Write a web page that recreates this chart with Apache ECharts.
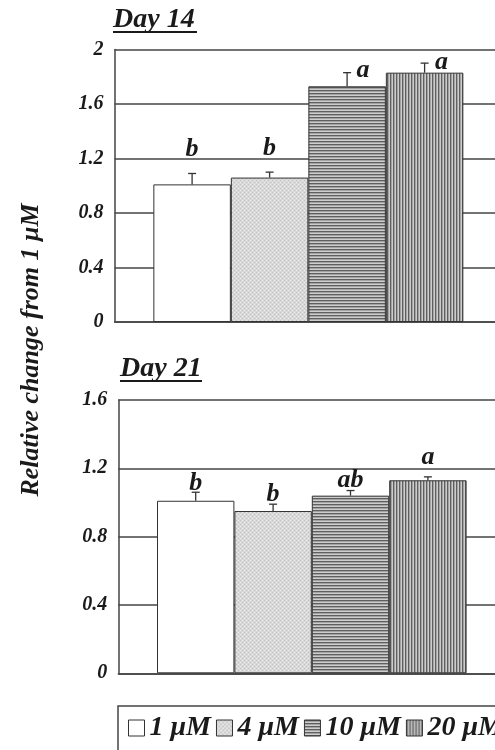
<!DOCTYPE html>
<html>
<head>
<meta charset="utf-8">
<script src="https://cdn.jsdelivr.net/npm/echarts@6/dist/echarts.min.js"></script>
<style>
  html, body { margin: 0; padding: 0; background: #fff; }
  #chart { width: 495px; height: 750px; }
</style>
</head>
<body>
<div id="chart"></div>
<script>
// Doses (one bar series each)
const doses = ['1 μM', '4 μM', '10 μM', '20 μM'];

// Day 14: mean relative change, top of the error bar, significance letters
const day14Mean = [1.01, 1.06, 1.73, 1.83];
const day14Upper = [1.09, 1.10, 1.83, 1.90];
const day14Letters = ['b', 'b', 'a', 'a'];

// Day 21
const day21Mean = [1.01, 0.95, 1.04, 1.13];
const day21Upper = [1.06, 0.99, 1.07, 1.15];
const day21Letters = ['b', 'b', 'ab', 'a'];

// Value axis ranges
const day14Axis = { min: 0, max: 2, step: 0.4 };
const day21Axis = { min: 0, max: 1.6, step: 0.4 };

const SERIF = '"Liberation Serif", "Times New Roman", serif';
const INK = '#1a1a1a';
const BAR_GAP = 0.2; // barCategoryGap fraction

// Letter placement relative to the error-bar top (pixels)
const day14LetterShift = [[0, -24], [0, -24], [16, -2], [17, -1]];
const day21LetterShift = [[0, -9], [0, -10], [0, -10], [0, -20]];

// Fill patterns for the four doses
function makePattern(kind) {
  const c = document.createElement('canvas');
  const ctx = c.getContext('2d');
  if (kind === 'white') {
    return '#ffffff';
  }
  if (kind === 'dots') {
    c.width = 4; c.height = 4;
    ctx.fillStyle = '#d9d9d9'; ctx.fillRect(0, 0, 4, 4);
    ctx.fillStyle = '#c2c2c2'; ctx.fillRect(0, 0, 1, 1); ctx.fillRect(2, 2, 1, 1);
    ctx.fillStyle = '#ebebeb'; ctx.fillRect(2, 0, 1, 1); ctx.fillRect(0, 2, 1, 1);
  } else if (kind === 'hlines') {
    c.width = 4; c.height = 3;
    const rows = ['#5f5f5f', '#a3a3a3', '#cdcdcd'];
    rows.forEach((col, r) => { ctx.fillStyle = col; ctx.fillRect(0, r, 4, 1); });
  } else if (kind === 'vlines') {
    c.width = 3; c.height = 4;
    const cols = ['#5f5f5f', '#a3a3a3', '#cdcdcd'];
    cols.forEach((col, k) => { ctx.fillStyle = col; ctx.fillRect(k, 0, 1, 4); });
  }
  return { image: c, repeat: 'repeat' };
}
const fills = [makePattern('white'), makePattern('dots'), makePattern('hlines'), makePattern('vlines')];

function barSeries(gridIdx, means) {
  return doses.map((name, i) => ({
    type: 'bar',
    name: name,
    xAxisIndex: gridIdx,
    yAxisIndex: gridIdx,
    data: [means[i]],
    barGap: '0%',
    barCategoryGap: (BAR_GAP * 100) + '%',
    itemStyle: { color: fills[i], borderColor: '#333', borderWidth: 1 },
    emphasis: { disabled: true },
    z: 2
  }));
}

function errorSeries(gridIdx, means, uppers, letters, shifts) {
  return {
    type: 'custom',
    xAxisIndex: gridIdx,
    yAxisIndex: gridIdx,
    data: means.map((m, i) => [0, m, uppers[i], i]),
    encode: { x: 0, y: [1, 2] },
    z: 5,
    silent: true,
    renderItem: function (params, api) {
      const idx = api.value(3);
      const band = api.size([1, 0])[0];
      const avail = band * (1 - BAR_GAP);
      const barW = avail / doses.length;
      const base = api.coord([0, api.value(1)]);
      const top = api.coord([0, api.value(2)]);
      const x = base[0] - avail / 2 + barW * (idx + 0.5);
      const sh = shifts[idx];
      return {
        type: 'group',
        children: [
          { type: 'line', shape: { x1: x, y1: base[1], x2: x, y2: top[1] },
            style: { stroke: '#333', lineWidth: 1.3 } },
          { type: 'line', shape: { x1: x - 4, y1: top[1], x2: x + 4, y2: top[1] },
            style: { stroke: '#333', lineWidth: 1.3 } },
          { type: 'text',
            style: { text: letters[idx], x: x + sh[0], y: top[1] + sh[1],
                     align: 'center', verticalAlign: 'middle',
                     font: 'italic bold 26px ' + SERIF, fill: INK } }
        ]
      };
    }
  };
}

function valueAxis(gridIdx, ax) {
  return {
    type: 'value',
    gridIndex: gridIdx,
    min: ax.min, max: ax.max, interval: ax.step,
    axisLine: { show: true, lineStyle: { color: '#444', width: 1.5 } },
    axisTick: { show: false },
    splitLine: { show: true, lineStyle: { color: '#444', width: 1.5 } },
    axisLabel: {
      margin: 11,
      fontFamily: SERIF, fontStyle: 'italic', fontWeight: 'bold',
      fontSize: 20, color: INK
    }
  };
}

function catAxis(gridIdx, label) {
  return {
    type: 'category',
    gridIndex: gridIdx,
    data: [label],
    axisLine: { show: true, lineStyle: { color: '#444', width: 1.5 } },
    axisTick: { show: false },
    axisLabel: { show: false }
  };
}

const chart = echarts.init(document.getElementById('chart'), null, { renderer: 'canvas' });

chart.setOption({
  animation: false,
  backgroundColor: '#fff',
  grid: [
    { left: 114.6, top: 49.5, width: 387.5, height: 272.5, outerBoundsMode: 'none', containLabel: false },
    { left: 118.3, top: 400, width: 387, height: 273.3, outerBoundsMode: 'none', containLabel: false }
  ],
  xAxis: [catAxis(0, 'Day 14'), catAxis(1, 'Day 21')],
  yAxis: [valueAxis(0, day14Axis), valueAxis(1, day21Axis)],
  legend: {
    data: doses,
    left: 123, top: 709,
    width: 700,
    orient: 'horizontal',
    itemWidth: 16, itemHeight: 16, itemGap: 5,
    icon: 'rect',
    selectedMode: false,
    itemStyle: { borderColor: '#333', borderWidth: 1 },
    textStyle: { fontFamily: SERIF, fontStyle: 'italic', fontWeight: 'bold', fontSize: 28, color: INK }
  },
  graphic: [
    { type: 'text', x: 113, y: 20,
      style: { text: 'Day 14', font: 'italic bold 28px ' + SERIF, fill: INK, verticalAlign: 'middle' } },
    { type: 'rect', shape: { x: 113, y: 31, width: 84, height: 2 }, style: { fill: INK } },
    { type: 'text', x: 120, y: 369,
      style: { text: 'Day 21', font: 'italic bold 28px ' + SERIF, fill: INK, verticalAlign: 'middle' } },
    { type: 'rect', shape: { x: 120, y: 380, width: 82, height: 2 }, style: { fill: INK } },
    { type: 'text', x: 31, y: 350, rotation: Math.PI / 2,
      style: { text: 'Relative change from 1 μM', font: 'italic bold 26px ' + SERIF, fill: INK,
               align: 'center', verticalAlign: 'middle' } },
    { type: 'rect', shape: { x: 118, y: 706, width: 400, height: 80 },
      style: { fill: 'none', stroke: '#444', lineWidth: 1.5 } }
  ],
  series: [
    ...barSeries(0, day14Mean),
    ...barSeries(1, day21Mean),
    errorSeries(0, day14Mean, day14Upper, day14Letters, day14LetterShift),
    errorSeries(1, day21Mean, day21Upper, day21Letters, day21LetterShift)
  ]
});
</script>
</body>
</html>
